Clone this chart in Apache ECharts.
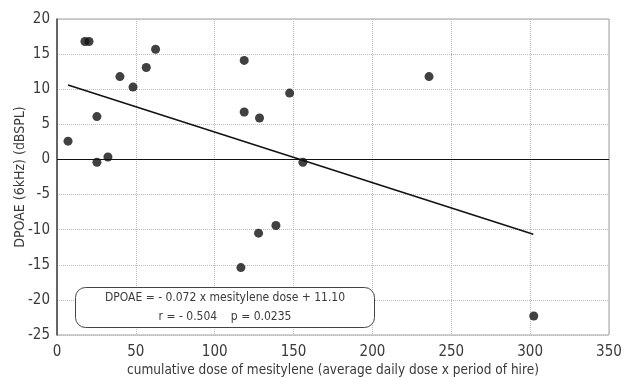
<!DOCTYPE html>
<html>
<head>
<meta charset="utf-8">
<script src="https://cdn.jsdelivr.net/npm/echarts@6/dist/echarts.min.js"></script>
<style>
  html, body { margin: 0; padding: 0; background: #fff; }
  #chart { width: 624px; height: 378px; }
</style>
</head>
<body>
<div id="chart"></div>
<script>
// cumulative dose of mesitylene vs DPOAE at 6kHz
const doseValues = [7, 17.7, 20.3, 25.3, 25.3, 32.3, 39.9, 48.2, 56.6, 62.5, 118.7, 118.7, 128.4, 147.5, 155.9, 235.9, 116.6, 127.8, 138.8, 302.3];
const dpoaeValues = [2.6, 16.8, 16.8, 6.1, -0.4, 0.35, 11.8, 10.3, 13.1, 15.7, 14.1, 6.75, 5.9, 9.45, -0.4, 11.8, -15.4, -10.5, -9.4, -22.3];
// regression line end points: DPOAE = -0.072 x dose + 11.10
const fitX = [7, 302];
const fitY = [10.60, -10.64];
const equationText = 'DPOAE = - 0.072 x mesitylene dose + 11.10';
const statsText = 'r = - 0.504    p = 0.0235';

const font = '"Liberation Sans Narrow", "DejaVu Sans Condensed", sans-serif';
const textColor = '#3a3a3a';

const chart = echarts.init(document.getElementById('chart'), null, { renderer: 'canvas' });

const option = {
  animation: false,
  backgroundColor: '#fff',
  grid: {
    left: 57,
    right: 15,
    top: 19,
    bottom: 43,
    outerBoundsMode: 'none',
    containLabel: false,
    show: true,
    borderColor: '#a0a0a0',
    borderWidth: 1
  },
  xAxis: {
    type: 'value',
    min: 0,
    max: 350,
    interval: 50,
    name: 'cumulative dose of mesitylene (average daily dose x period of hire)',
    nameLocation: 'middle',
    nameGap: 28,
    nameMoveOverlap: false,
    nameTextStyle: { color: textColor, fontSize: 13.5, fontFamily: font },
    axisLine: { lineStyle: { color: '#999', width: 1 } },
    axisTick: { show: false },
    axisLabel: { color: textColor, fontSize: 15, fontFamily: font, margin: 10 },
    splitLine: { show: true, lineStyle: { color: '#bbb', type: 'dotted', width: 1 } }
  },
  yAxis: {
    type: 'value',
    min: -25,
    max: 20,
    interval: 5,
    name: 'DPOAE (6kHz) (dBSPL)',
    nameLocation: 'middle',
    nameGap: 30,
    nameRotate: 90,
    nameMoveOverlap: false,
    nameTextStyle: { color: textColor, fontSize: 14, fontFamily: font },
    axisLine: { show: true, lineStyle: { color: '#444', width: 1.5 } },
    axisTick: { show: false },
    axisLabel: { color: textColor, fontSize: 15, fontFamily: font, margin: 7 },
    splitLine: { show: true, lineStyle: { color: '#bbb', type: 'dotted', width: 1 } }
  },
  series: [
    {
      type: 'line',
      data: fitX.map((x, i) => [x, fitY[i]]),
      symbol: 'none',
      lineStyle: { color: '#111', width: 1.5 },
      silent: true,
      z: 3
    },
    {
      type: 'scatter',
      data: doseValues.map((x, i) => [x, dpoaeValues[i]]),
      symbol: 'circle',
      symbolSize: 9,
      itemStyle: { color: '#111' },
      z: 4,
      markLine: {
        silent: true,
        symbol: 'none',
        label: { show: false },
        lineStyle: { color: '#111', type: 'solid', width: 1.2 },
        data: [{ yAxis: 0 }]
      }
    }
  ],
  graphic: [
    {
      type: 'rect',
      left: 75,
      top: 287,
      shape: { width: 299, height: 40, r: 10 },
      style: { fill: '#fff', stroke: '#444', lineWidth: 1 },
      z: 10
    },
    {
      type: 'text',
      x: 225,
      y: 298,
      style: {
        text: equationText,
        fill: textColor,
        font: '12px ' + font,
        align: 'center',
        verticalAlign: 'middle'
      },
      z: 11
    },
    {
      type: 'text',
      x: 225,
      y: 317,
      style: {
        text: statsText,
        fill: textColor,
        font: '12px ' + font,
        align: 'center',
        verticalAlign: 'middle'
      },
      z: 11
    }
  ]
};

chart.setOption(option);
</script>
</body>
</html>
